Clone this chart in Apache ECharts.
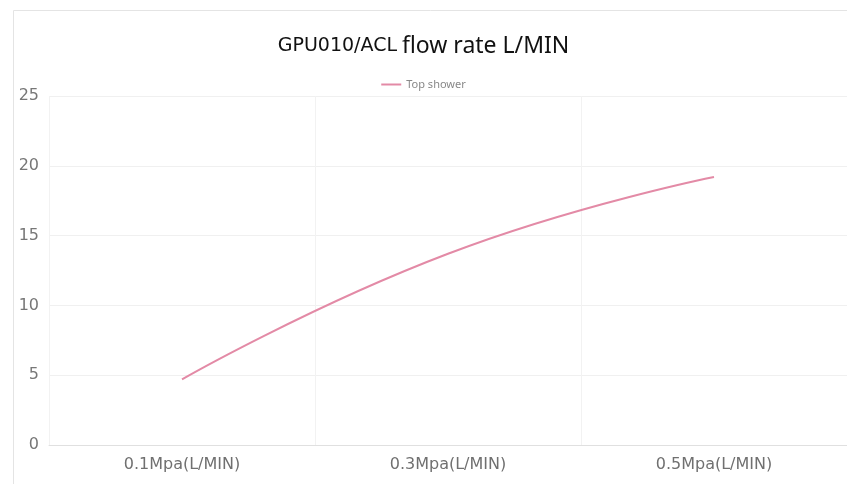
<!DOCTYPE html>
<html>
<head>
<meta charset="utf-8">
<script src="https://cdn.jsdelivr.net/npm/echarts@6/dist/echarts.min.js"></script>
<style>html,body{margin:0;padding:0;background:#fff}#c{width:847px;height:484px}</style>
</head>
<body>
<div id="c"></div>
<script>
var categories = ['0.1Mpa(L/MIN)', '0.3Mpa(L/MIN)', '0.5Mpa(L/MIN)'];
var topShower = [4.7, 13.7, 19.2];
var seriesName = 'Top shower';
var yMin = 0, yMax = 25, yStep = 5;

var lineColor = '#e38aa6';
var chart = echarts.init(document.getElementById('c'), null, {renderer: 'canvas'});
chart.setOption({
  backgroundColor: '#fff',
  animation: false,
  graphic: [{
    type: 'rect', left: 11, top: 8, shape: {width: 840, height: 480},
    style: {fill: 'none', stroke: '#e4e4e4', lineWidth: 1}, z: -1
  }],
  title: {
    text: '{a|GPU010/ACL} {b|flow rate L/MIN}',
    left: 'center', top: 30,
    textStyle: {
      fontWeight: 'normal',
      rich: {
        a: {fontFamily: 'DejaVu Sans', fontSize: 19, color: '#111', fontWeight: 'normal'},
        b: {fontFamily: 'Noto Sans', fontSize: 23, color: '#111', fontWeight: 'normal'}
      }
    }
  },
  legend: {
    top: 74, left: 'center',
    itemWidth: 20, itemHeight: 2, icon: 'rect',
    itemStyle: {color: lineColor},
    textStyle: {fontSize: 11, color: '#888', fontFamily: 'Noto Sans'},
    data: [seriesName]
  },
  grid: {left: 49, right: 0, top: 96, bottom: 39, containLabel: false},
  xAxis: {
    type: 'category', data: categories, boundaryGap: true,
    axisLine: {lineStyle: {color: '#e0e0e0'}},
    axisTick: {show: false},
    axisLabel: {color: '#707070', fontSize: 16, margin: 12, fontFamily: 'DejaVu Sans'},
    splitLine: {show: true, lineStyle: {color: '#f2f2f2'}}
  },
  yAxis: {
    type: 'value', min: yMin, max: yMax, interval: yStep,
    axisLine: {show: false}, axisTick: {show: false},
    axisLabel: {color: '#777', fontSize: 16, margin: 10, fontFamily: 'DejaVu Sans'},
    splitLine: {lineStyle: {color: '#f0f0f0'}}
  },
  series: [{
    name: seriesName, type: 'line', data: topShower, smooth: true,
    showSymbol: false, symbol: 'none',
    lineStyle: {color: lineColor, width: 2},
    itemStyle: {color: lineColor}
  }]
});
</script>
</body>
</html>
